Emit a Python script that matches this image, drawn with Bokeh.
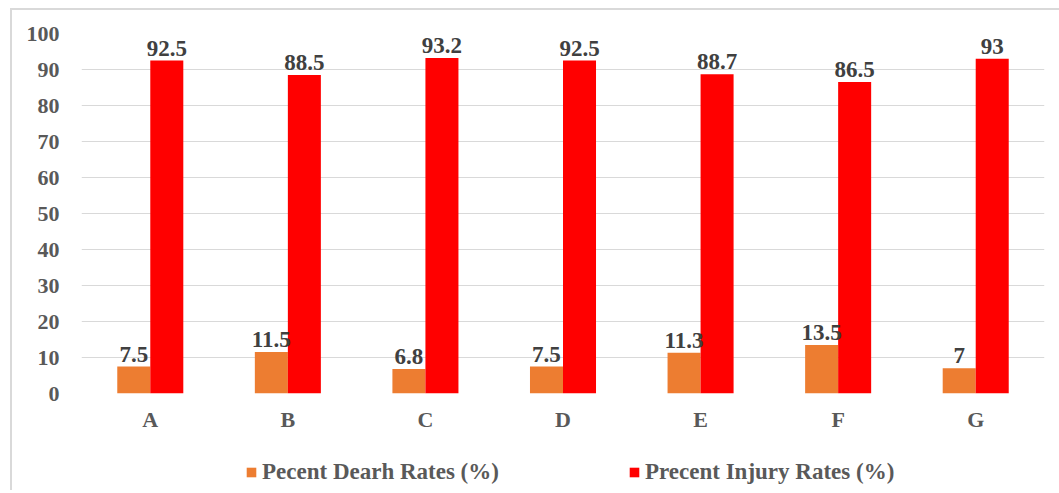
from bokeh.plotting import figure
from bokeh.models import ColumnDataSource, Legend, LegendItem, FactorRange, Range1d, LabelSet
from bokeh.layouts import column
from bokeh.transform import dodge
from bokeh.embed import file_html
from bokeh.resources import INLINE

categories = ["A", "B", "C", "D", "E", "F", "G"]
death_rates = [7.5, 11.5, 6.8, 7.5, 11.3, 13.5, 7]
injury_rates = [92.5, 88.5, 93.2, 92.5, 88.7, 86.5, 93]
death_labels = ["7.5", "11.5", "6.8", "7.5", "11.3", "13.5", "7"]
injury_labels = ["92.5", "88.5", "93.2", "92.5", "88.7", "86.5", "93"]
series_names = ["Pecent Dearh Rates (%)", "Precent Injury Rates (%)"]
series_colors = ["#ed7d31", "#ff0000"]

src = ColumnDataSource(dict(cat=categories, death=death_rates, injury=injury_rates,
                            dl=death_labels, il=injury_labels))

FONT = "Liberation Serif"

p = figure(x_range=FactorRange(*categories, range_padding=0), y_range=Range1d(0, 100),
           width=1047, height=430, output_backend="svg", toolbar_location=None,
           min_border_left=69, min_border_right=15, min_border_top=23, min_border_bottom=47)

r1 = p.vbar(x=dodge("cat", -0.12, range=p.x_range), top="death", width=0.24, source=src,
            fill_color=series_colors[0], line_color=None)
r2 = p.vbar(x=dodge("cat", 0.12, range=p.x_range), top="injury", width=0.24, source=src,
            fill_color=series_colors[1], line_color=None)

for col, lab, off in [("death", "dl", -0.12), ("injury", "il", 0.12)]:
    ls = LabelSet(x=dodge("cat", off, range=p.x_range), y=col, text=lab, source=src,
                  text_align="center", text_baseline="bottom", y_offset=5,
                  text_font=FONT, text_font_style="bold", text_font_size="23px",
                  text_color="#404040")
    p.add_layout(ls)

p.outline_line_color = None
p.xgrid.grid_line_color = None
p.ygrid.grid_line_color = "#d9d9d9"
p.ygrid.grid_line_width = 1
p.yaxis.ticker = list(range(0, 101, 10))

for ax in (p.xaxis[0], p.yaxis[0]):
    ax.axis_line_color = None
    ax.major_tick_line_color = None
    ax.minor_tick_line_color = None
    ax.major_label_text_font = FONT
    ax.major_label_text_font_style = "bold"
    ax.major_label_text_font_size = "22px"
    ax.major_label_text_color = "#595959"
p.xaxis.major_label_standoff = 7
p.yaxis.major_label_standoff = 16

# legend strip below the chart
lg = figure(width=1047, height=50, output_backend="svg", toolbar_location=None,
            x_range=Range1d(0, 1), y_range=Range1d(0, 1),
            min_border_left=0, min_border_right=0, min_border_top=0, min_border_bottom=0)
lg.axis.visible = False
lg.grid.visible = False
lg.outline_line_color = None
hidden = ColumnDataSource(dict(x=[-10], top=[-10]))
d1 = lg.vbar(x="x", top="top", width=0.1, source=hidden, fill_color=series_colors[0], line_color=None)
d2 = lg.vbar(x="x", top="top", width=0.1, source=hidden, fill_color=series_colors[1], line_color=None)

for name, rend, xloc in [(series_names[0], d1, 164), (series_names[1], d2, 547)]:
    leg = Legend(items=[LegendItem(label=name, renderers=[rend])],
                 orientation="horizontal", location=(xloc, 5),
                 label_text_font=FONT, label_text_font_style="bold",
                 label_text_font_size="23px", label_text_color="#595959",
                 glyph_width=12, glyph_height=12, label_height=20,
                 border_line_color=None, background_fill_alpha=0,
                 margin=0, padding=0, label_standoff=5)
    lg.add_layout(leg, "center")

layout = column(p, lg, spacing=0,
                styles={"margin-left": "10px", "margin-top": "8px",
                        "border-left": "2px solid #d9d9d9", "border-top": "2px solid #d9d9d9"})

open("out.html", "w").write(file_html(layout, INLINE))
